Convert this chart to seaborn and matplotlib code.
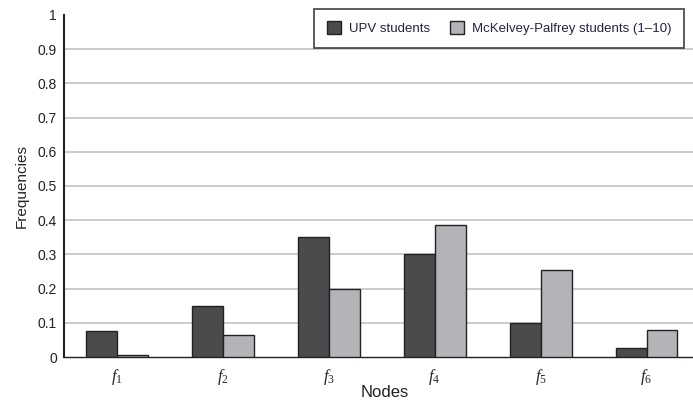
import numpy as np
import pandas as pd
import matplotlib
matplotlib.use('Agg')
import matplotlib.pyplot as plt
import seaborn as sns

nodes = ['f1', 'f2', 'f3', 'f4', 'f5', 'f6']
node_labels = ['$f_1$', '$f_2$', '$f_3$', '$f_4$', '$f_5$', '$f_6$']
upv = [0.075, 0.15, 0.35, 0.30, 0.10, 0.025]
mckelvey = [0.006, 0.063, 0.20, 0.385, 0.255, 0.078]
series = ['UPV students', 'McKelvey-Palfrey students (1\u201310)']
yticks = [0, 0.1, 0.2, 0.3, 0.4, 0.5, 0.6, 0.7, 0.8, 0.9, 1]

df = pd.DataFrame({
    'node': nodes * 2,
    'freq': upv + mckelvey,
    'group': [series[0]] * len(nodes) + [series[1]] * len(nodes),
})

sns.set_style("white")
plt.rcParams['font.family'] = ['Liberation Sans', 'DejaVu Sans']
plt.rcParams['mathtext.fontset'] = 'custom'
plt.rcParams['mathtext.it'] = 'Liberation Serif:italic'
plt.rcParams['mathtext.rm'] = 'Liberation Serif'

fig = plt.figure(figsize=(6.93, 4.05), dpi=100)
ax = fig.add_axes([0.092, 0.1185, 0.925, 0.8445])

palette = {series[0]: '#4a4b4d', series[1]: '#b3b4b7'}
sns.barplot(data=df, x='node', y='freq', hue='group', order=nodes,
            hue_order=series, palette=palette, width=0.585, saturation=1,
            edgecolor='#222222', linewidth=1.0, ax=ax, zorder=3)

ax.set_ylim(0, 1)
ax.set_xlim(-0.5, 5.55)
ax.set_yticks(yticks)
ax.set_yticklabels(['0', '0.1', '0.2', '0.3', '0.4', '0.5', '0.6', '0.7', '0.8', '0.9', '1'],
                   fontsize=10, color='#222222')
for y in yticks[1:-1]:
    ax.axhline(y, color='#c8c8c8', lw=1.3, zorder=1)

# boundaries as major ticks, labels at centers
ax.set_xticks(np.arange(0.5, 5.0, 1.0))
ax.set_xticklabels([])
ax.set_xticks(np.arange(len(nodes)), minor=True)
ax.set_xticklabels(node_labels, minor=True, fontsize=12)
ax.tick_params(axis='x', which='major', direction='out', length=4, width=1, color='#222222')
ax.tick_params(axis='x', which='minor', length=0, pad=7)
ax.tick_params(axis='y', direction='out', length=3, width=1, color='#222222', pad=2)

for side in ['top', 'right']:
    ax.spines[side].set_visible(False)
ax.spines['left'].set_color('#222222')
ax.spines['left'].set_linewidth(1.5)
ax.spines['bottom'].set_color('#222222')
ax.spines['bottom'].set_linewidth(1.0)

ax.set_xlabel('Nodes', fontsize=12, labelpad=-1, color='#222222')
ax.set_ylabel('Frequencies', fontsize=11, labelpad=6, color='#222222')

leg = ax.legend(loc='upper right', bbox_to_anchor=(0.997, 0.995), bbox_transform=fig.transFigure,
                ncol=2, frameon=True, fancybox=False, fontsize=9.5, handlelength=1.1,
                handleheight=1.1, columnspacing=1.5, handletextpad=0.6, borderpad=0.95)
leg.get_frame().set_edgecolor('#222222')
leg.get_frame().set_linewidth(1.3)
for t in leg.get_texts():
    t.set_color('#222244')

plt.savefig('out.png', dpi=100)
